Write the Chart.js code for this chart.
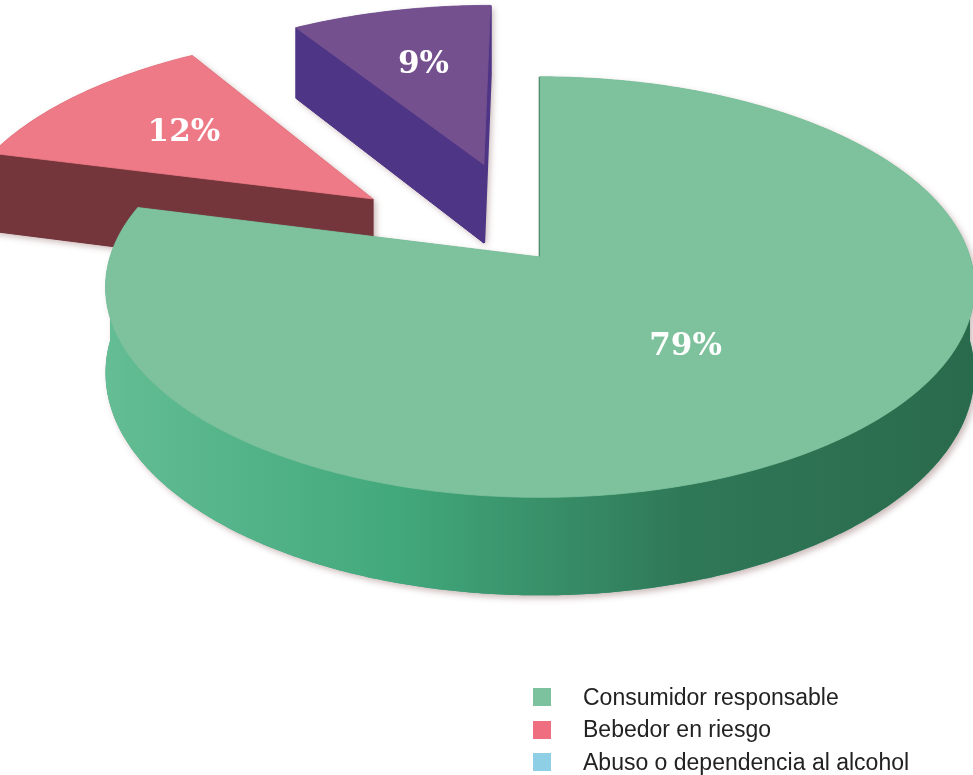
<!DOCTYPE html>
<html>
<head>
<meta charset="utf-8">
<script src="https://cdn.jsdelivr.net/npm/chart.js@4.4.1/dist/chart.umd.min.js"></script>
<style>
  html, body { margin: 0; padding: 0; background: #fff; }
  #wrap { position: relative; width: 973px; height: 775px; overflow: hidden; }
  #pie { position: absolute; left: 0; top: 0; }
  #legend {
    position: absolute; left: 533px; top: 681px;
    font-family: Arial, "Liberation Sans", sans-serif; font-size: 23px; color: #222;
  }
  #legend .row { display: flex; align-items: center; height: 32.5px; white-space: nowrap; }
  #legend .box { width: 18px; height: 18px; margin-right: 32px; }
</style>
</head>
<body>
<div id="wrap">
  <canvas id="pie" width="973" height="775"></canvas>
  <div id="legend"></div>
</div>
<script>
const labels = ["Consumidor responsable", "Bebedor en riesgo", "Abuso o dependencia al alcohol"]
const values = [79, 12, 9]
const topColors = ["#7EC29D", "#EE7A87", "#74508F"]
const sideColors = ["#3E9E74", "#74363B", "#4F3585"]
const legendColors = ["#7DC29E", "#EF6F80", "#8FCFE6"]
const explode = [0, 215, 215]

// fake 3d: squash the disc, shrink the far half a little, extrude downwards
const TILT = 0.479
const PERSPECTIVE = 0.143
const DEPTH = 84
const RIM_STOPS = ["#64BD94", "#42A97C", "#2F7857", "#2A6A4C"]

function project(cx, cy, R, dx, dy, h) {
  const w = -dy
  const s = 1 / (1 + PERSPECTIVE * w / R)
  return [cx + dx * s, cy - w * s * TILT + h * s]
}

function sliceGeometry(arc) {
  const { x: cx, y: cy, startAngle, endAngle, outerRadius: R } = arc
  const mid = (startAngle + endAngle) / 2
  const off = arc.options.offset || 0
  const ox = Math.cos(mid) * off
  const oy = Math.sin(mid) * off
  const P = (a, r, h) => project(cx, cy, R, ox + Math.cos(a) * r, oy + Math.sin(a) * r, h)
  const arcPts = (a1, a2, h) => {
    const n = Math.max(2, Math.ceil(Math.abs(a2 - a1) / 0.01))
    const pts = []
    for (let k = 0; k <= n; k++) pts.push(P(a1 + (a2 - a1) * k / n, R, h))
    return pts
  }

  const top = [P(0, 0, 0), ...arcPts(startAngle, endAngle, 0)]

  // radial walls, only the ones turned towards the viewer (or edge-on)
  const walls = []
  ;[[startAngle, startAngle - Math.PI / 2], [endAngle, endAngle + Math.PI / 2]].forEach(([a, n]) => {
    if (Math.sin(n) > -1e-6) {
      walls.push({ pts: [P(a, 0, 0), P(a, R, 0), P(a, R, DEPTH), P(a, 0, DEPTH)], edgeOn: Math.sin(n) < 0.05 })
    }
  })

  // curved rim, front half only
  const rims = []
  for (let k = -1; k <= 1; k++) {
    const lo = Math.max(startAngle, 2 * Math.PI * k)
    const hi = Math.min(endAngle, 2 * Math.PI * k + Math.PI)
    if (hi > lo) rims.push([...arcPts(lo, hi, 0), ...arcPts(hi, lo, DEPTH)])
  }

  return { top, walls, rims, P, R, mid }
}

function polyPath(ctx, pts) {
  ctx.moveTo(pts[0][0], pts[0][1])
  for (let k = 1; k < pts.length; k++) ctx.lineTo(pts[k][0], pts[k][1])
  ctx.closePath()
}

function drawSlice(ctx, arc, i) {
  const g = sliceGeometry(arc)

  // soft drop shadow under the whole solid
  ctx.save()
  ctx.shadowColor = "rgba(140, 100, 100, 0.45)"
  ctx.shadowBlur = 6
  ctx.shadowOffsetX = 3
  ctx.shadowOffsetY = 3
  ctx.fillStyle = sideColors[i]
  ctx.beginPath()
  polyPath(ctx, g.top)
  g.walls.forEach(w => polyPath(ctx, w.pts))
  g.rims.forEach(r => polyPath(ctx, r))
  ctx.fill()
  ctx.restore()

  g.walls.forEach(w => {
    ctx.beginPath()
    polyPath(ctx, w.pts)
    ctx.fillStyle = sideColors[i]
    ctx.strokeStyle = i === 0 ? "#2C7052" : sideColors[i]
    ctx.lineWidth = w.edgeOn ? 2.5 : 1
    ctx.fill()
    ctx.stroke()
  })

  g.rims.forEach(r => {
    const xs = r.map(p => p[0])
    const grad = ctx.createLinearGradient(Math.min(...xs), 0, Math.max(...xs), 0)
    RIM_STOPS.forEach((c, k) => grad.addColorStop(k / (RIM_STOPS.length - 1), c))
    ctx.beginPath()
    polyPath(ctx, r)
    ctx.fillStyle = grad
    ctx.fill()
  })

  ctx.beginPath()
  polyPath(ctx, g.top)
  ctx.fillStyle = arc.options.backgroundColor
  ctx.strokeStyle = arc.options.backgroundColor
  ctx.lineWidth = 0.8
  ctx.fill()
  ctx.stroke()

  return g
}

const pie3d = {
  id: "pie3d",
  beforeDatasetsDraw(chart) {
    const ctx = chart.ctx
    const arcs = chart.getDatasetMeta(0).data
    const geo = []
    // far slices first, the big front slice last
    for (let i = arcs.length - 1; i >= 0; i--) geo[i] = drawSlice(ctx, arcs[i], i)

    ctx.save()
    ctx.fillStyle = "#FFFFFF"
    ctx.font = "bold 31px 'DejaVu Serif', serif"
    ctx.textAlign = "center"
    ctx.textBaseline = "middle"
    geo.forEach((g, i) => {
      const f = values[i] > 50 ? 0.52 : 0.62
      const [lx, ly] = g.P(g.mid, g.R * f, 0)
      ctx.fillText(values[i] + "%", lx, ly)
    })
    ctx.restore()
    return false
  }
}

new Chart(document.getElementById("pie"), {
  type: "pie",
  data: {
    labels: labels,
    datasets: [{
      data: values,
      backgroundColor: topColors,
      offset: explode,
      borderWidth: 0,
      clip: false
    }]
  },
  options: {
    responsive: false,
    animation: false,
    events: [],
    radius: 430,
    layout: { padding: { left: 107, right: 0, top: 0, bottom: 261 } },
    plugins: {
      legend: { display: false },
      tooltip: { enabled: false }
    }
  },
  plugins: [pie3d]
})

const legend = document.getElementById("legend")
labels.forEach((name, i) => {
  const row = document.createElement("div")
  row.className = "row"
  const box = document.createElement("span")
  box.className = "box"
  box.style.background = legendColors[i]
  const txt = document.createElement("span")
  txt.textContent = name
  row.appendChild(box)
  row.appendChild(txt)
  legend.appendChild(row)
})
</script>
</body>
</html>
